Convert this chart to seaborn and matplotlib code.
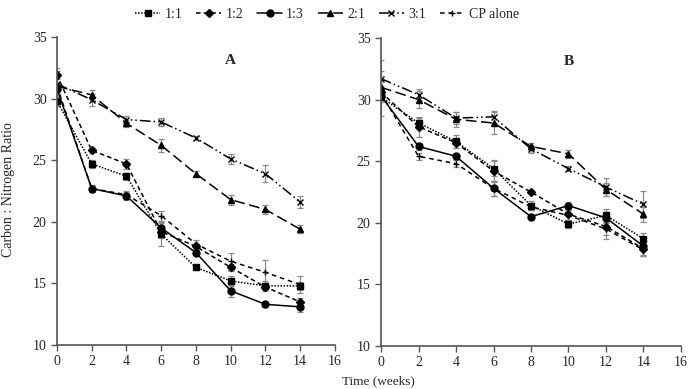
import seaborn as sns
import matplotlib.pyplot as plt

weeks = [0, 2, 4, 6, 8, 10, 12, 14]
series = ['1:1', '1:2', '1:3', '2:1', '3:1', 'CP alone']

# panel A
a_11 = [29.8, 24.7, 23.7, 19.0, 16.3, 15.2, 14.8, 14.8]
a_12 = [31.9, 25.8, 24.7, 19.2, 18.0, 16.3, 14.7, 13.5]
a_13 = [30.8, 22.7, 22.1, 19.5, 17.5, 14.4, 13.3, 13.1]
a_21 = [31.0, 30.3, 28.0, 26.2, 23.9, 21.8, 21.0, 19.4]
a_31 = [31.2, 29.9, 28.3, 28.1, 26.8, 25.1, 23.9, 21.6]
a_cp = [31.0, 22.7, 22.2, 20.5, 18.2, 16.8, 15.9, 14.9]
a_11_err = [0.4, 0.3, 0.3, 1.0, 0.2, 0.4, 0.4, 0.3]
a_12_err = [0.3, 0.2, 0.4, 0.5, 0.2, 0.3, 0.2, 0.3]
a_13_err = [0.3, 0.3, 0.3, 0.4, 0.2, 0.5, 0.2, 0.4]
a_21_err = [0.3, 0.4, 0.3, 0.5, 0.2, 0.4, 0.4, 0.3]
a_31_err = [0.5, 0.5, 0.3, 0.3, 0.2, 0.4, 0.7, 0.5]
a_cp_err = [1.5, 0.3, 0.3, 0.4, 0.3, 0.7, 1.0, 0.7]

# panel B
b_11 = [30.2, 28.1, 26.6, 24.4, 21.4, 19.9, 20.6, 18.7]
b_12 = [30.6, 27.8, 26.5, 24.2, 22.5, 20.7, 19.7, 17.9]
b_13 = [30.3, 26.2, 25.4, 22.8, 20.5, 21.4, 20.4, 18.1]
b_21 = [31.0, 30.0, 28.4, 28.1, 26.2, 25.6, 22.7, 20.7]
b_31 = [31.7, 30.4, 28.5, 28.6, 26.0, 24.4, 22.9, 21.5]
b_cp = [30.5, 25.4, 24.8, 22.8, 21.3, 20.6, 19.5, 17.8]
b_11_err = [0.4, 0.4, 0.5, 0.6, 0.4, 0.3, 0.5, 0.5]
b_12_err = [0.5, 0.8, 0.4, 0.9, 0.2, 0.5, 1.0, 0.6]
b_13_err = [0.5, 0.3, 0.3, 0.6, 0.2, 0.3, 0.4, 0.7]
b_21_err = [0.6, 0.7, 0.6, 0.9, 0.3, 0.3, 0.5, 0.6]
b_31_err = [1.5, 0.5, 0.5, 0.5, 0.3, 0.2, 0.7, 1.1]
b_cp_err = [1.8, 0.3, 0.3, 0.6, 0.3, 0.4, 0.5, 0.5]

panel_a = [a_11, a_12, a_13, a_21, a_31, a_cp]
panel_a_err = [a_11_err, a_12_err, a_13_err, a_21_err, a_31_err, a_cp_err]
panel_b = [b_11, b_12, b_13, b_21, b_31, b_cp]
panel_b_err = [b_11_err, b_12_err, b_13_err, b_21_err, b_31_err, b_cp_err]

markers = ['s', 'D', 'o', '^', 'x', '+']
msizes = [5, 3.8, 5, 5, 4, 5]
styles = [(0, (1, 1)), (0, (3, 2)), '-', (0, (7, 3)), (0, (7, 2, 1, 2, 1, 2)), (0, (3, 2.5))]

sns.set_style('ticks')
plt.rcParams['font.family'] = ['Liberation Serif', 'DejaVu Serif']

fig = plt.figure(figsize=(6.88, 3.89), dpi=100)
axA = fig.add_axes([0.0828, 0.1131, 0.404, 0.7918])
axB = fig.add_axes([0.5538, 0.1105, 0.436, 0.7918])


def draw_panel(ax, vals, errs, tag):
    for name, y, e, m, ms, ls in zip(series, vals, errs, markers, msizes, styles):
        ax.errorbar(weeks, y, yerr=e, fmt='none', ecolor='#8a8a8a',
                    elinewidth=0.9, capsize=2.5, capthick=0.9, zorder=1)
        sns.lineplot(ax=ax, x=weeks, y=y, color='black', marker=m, markersize=ms,
                     markeredgecolor='black', markeredgewidth=1.0,
                     linestyle=ls, linewidth=1.1, label=name, errorbar=None, zorder=2)
    if ax.get_legend() is not None:
        ax.get_legend().remove()
    ax.set_xlim(0, 16)
    ax.set_ylim(10, 35)
    ax.set_xticks(range(0, 17, 2))
    ax.set_yticks(range(10, 36, 5))
    ax.tick_params(labelsize=10, length=4, width=1, color='#555555', direction='out')
    for s in ['top', 'right']:
        ax.spines[s].set_visible(False)
    for s in ['left', 'bottom']:
        ax.spines[s].set_color('#555555')
        ax.spines[s].set_linewidth(1.2)
    ax.set_xlabel('')
    ax.set_ylabel('')
    ax.text(10, 33.1, tag, fontsize=11, fontweight='bold', ha='center', va='center')


draw_panel(axA, panel_a, panel_a_err, 'A')
draw_panel(axB, panel_b, panel_b_err, 'B')

handles, labels = axA.get_legend_handles_labels()
fig.legend(handles, labels, loc='center', bbox_to_anchor=(327 / 688, 1 - 14 / 389),
           ncol=6, frameon=False, fontsize=10, handlelength=1.8,
           columnspacing=1.0, handletextpad=0.3)

fig.text(0.012, 0.512, 'Carbon : Nitrogen Ratio', rotation=90, ha='center',
         va='center', fontsize=10)
fig.text(378 / 688, 1 - 381 / 389, 'Time (weeks)', ha='center', va='center', fontsize=9.5)

plt.savefig('out.png', dpi=100)
